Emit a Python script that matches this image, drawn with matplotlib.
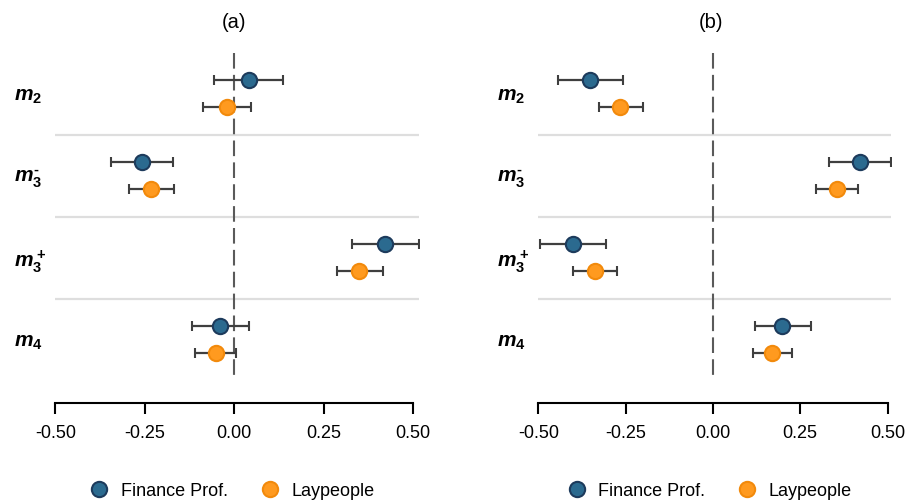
import numpy as np
import matplotlib
matplotlib.use("Agg")
import matplotlib.pyplot as plt
from matplotlib.lines import Line2D

plt.rcParams['font.family'] = ['Liberation Sans', 'DejaVu Sans']
plt.rcParams['mathtext.fontset'] = 'custom'
plt.rcParams['mathtext.it'] = 'Liberation Sans:italic:bold'
plt.rcParams['mathtext.rm'] = 'Liberation Sans:bold'
plt.rcParams['mathtext.bf'] = 'Liberation Sans:bold'

# effects (estimate, lower, upper)
groups = [r'$m_2$', '$m_3^{\u2010}$', r'$m_3^+$', r'$m_4$']

a_fin_est = [0.040, -0.257, 0.422, -0.040]
a_fin_lo = [-0.056, -0.344, 0.328, -0.119]
a_fin_hi = [0.136, -0.170, 0.517, 0.041]
a_lay_est = [-0.020, -0.232, 0.349, -0.052]
a_lay_lo = [-0.087, -0.295, 0.286, -0.110]
a_lay_hi = [0.046, -0.169, 0.415, 0.006]

b_fin_est = [-0.351, 0.421, -0.401, 0.199]
b_fin_lo = [-0.444, 0.333, -0.494, 0.120]
b_fin_hi = [-0.257, 0.509, -0.305, 0.280]
b_lay_est = [-0.265, 0.356, -0.337, 0.170]
b_lay_lo = [-0.327, 0.296, -0.401, 0.114]
b_lay_hi = [-0.201, 0.416, -0.274, 0.226]

xticks = [-0.5, -0.25, 0.0, 0.25, 0.5]
xticklabels = ['-0.50', '-0.25', '0.00', '0.25', '0.50']
series_names = ['Finance Prof.', 'Laypeople']

fin_face, fin_edge = '#2b6a8f', '#1d3b5c'
lay_face, lay_edge = '#ff9a1f', '#f28a0c'
bar_color = '#3f3f3f'

W, H = 907, 504
fig = plt.figure(figsize=(W / 100, H / 100), dpi=100)

# panel extents in pixels (left, right)
panels = [(55.3, 419.3, 'a'), (538.3, 890.7, 'b')]
top_px, bottom_px = 40, 403
data = {
    'a': (a_fin_est, a_fin_lo, a_fin_hi, a_lay_est, a_lay_lo, a_lay_hi),
    'b': (b_fin_est, b_fin_lo, b_fin_hi, b_lay_est, b_lay_lo, b_lay_hi),
}

off = 13.5 / 82
ypos = np.arange(len(groups))

for x0, x1, key in panels:
    ax = fig.add_axes([x0 / W, 1 - bottom_px / H, (x1 - x0) / W, (bottom_px - top_px) / H])
    fe, fl, fh, le, ll, lh = [np.array(v) for v in data[key]]
    xmin = min(-0.5, fl.min(), ll.min())
    xmax = max(0.5, fh.max(), lh.max())
    ax.set_xlim(xmin, xmax)
    ax.set_ylim((bottom_px - 93.5) / 82, (top_px - 93.5) / 82)

    for s in [0.5, 1.5, 2.5]:
        ax.axhline(s, color='#dedede', lw=1.6, zorder=1)
    ax.plot([0, 0], [-0.5, 3.5], color='#5a5a5a', lw=1.5,
            linestyle=(0, (7.5, 3)), zorder=2)

    for est, lo, hi, dy, face, edge in [(fe, fl, fh, -off, fin_face, fin_edge),
                                        (le, ll, lh, off, lay_face, lay_edge)]:
        ax.errorbar(est, ypos + dy, xerr=[est - lo, hi - est], fmt='o',
                    ms=11, mfc=face, mec=edge, mew=1.5,
                    ecolor=bar_color, elinewidth=1.6, capsize=3.6, capthick=1.6,
                    zorder=3)

    for side in ['top', 'right', 'left']:
        ax.spines[side].set_visible(False)
    ax.spines['bottom'].set_bounds(-0.5, 0.5)
    ax.spines['bottom'].set_linewidth(1.5)
    ax.set_xticks(xticks)
    ax.set_xticklabels(xticklabels, fontsize=13)
    ax.tick_params(axis='x', length=8, width=1.5, pad=7.5)
    ax.set_yticks(ypos)
    ax.set_yticklabels(groups, fontsize=15, ha='left')
    ax.tick_params(axis='y', length=0, pad=30)

    cx = (x0 + x1) / 2
    fig.text((cx - 3) / W, 1 - 22 / H, f'({key})', ha='center', va='center', fontsize=14.5)

    handles = [Line2D([], [], ls='', marker='o', ms=11, mfc=fin_face, mec=fin_edge, mew=1.5),
               Line2D([], [], ls='', marker='o', ms=11, mfc=lay_face, mec=lay_edge, mew=1.5)]
    fig.legend(handles, series_names, loc='center', ncol=2, frameon=False,
               bbox_to_anchor=((cx - 5) / W, 1 - 491 / H), fontsize=13,
               handlelength=1.0, handletextpad=0.7, columnspacing=1.8)

fig.savefig('out.png', dpi=100)
